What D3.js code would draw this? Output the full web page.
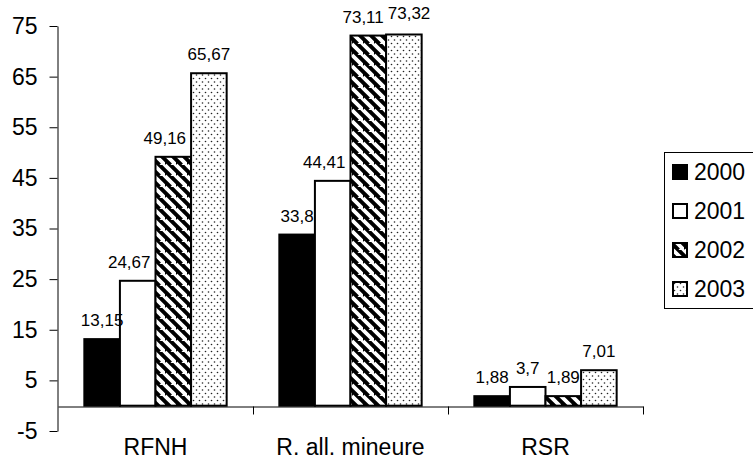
<!DOCTYPE html>
<html>
<head>
<meta charset="utf-8">
<script src="https://cdn.jsdelivr.net/npm/d3@7"></script>
<style>
  body { margin: 0; background: #fff; }
  svg { display: block; }
</style>
</head>
<body>
<div id="svg-container"></div>
<script>
// data
var categories = ["RFNH", "R. all. mineure", "RSR"];
var years = ["2000", "2001", "2002", "2003"];
var values2000 = [13.15, 33.8, 1.88];
var values2001 = [24.67, 44.41, 3.7];
var values2002 = [49.16, 73.11, 1.89];
var values2003 = [65.67, 73.32, 7.01];
var labels2000 = ["13,15", "33,8", "1,88"];
var labels2001 = ["24,67", "44,41", "3,7"];
var labels2002 = ["49,16", "73,11", "1,89"];
var labels2003 = ["65,67", "73,32", "7,01"];
var yTicks = [-5, 5, 15, 25, 35, 45, 55, 65, 75];

var svgWidth = 753,
    svgHeight = 464;
var fontFamily = "'Liberation Sans', Arial, sans-serif";

var svg = d3.select("#svg-container").append("svg")
    .attr("width", svgWidth)
    .attr("height", svgHeight);

// patterns for 2002 (stripes) and 2003 (dots)
var defs = svg.append("defs");
var stripes = defs.append("pattern")
    .attr("id", "stripes")
    .attr("patternUnits", "userSpaceOnUse")
    .attr("width", 11)
    .attr("height", 11);
stripes.append("rect").attr("width", 11).attr("height", 11).attr("fill", "#fff");
stripes.append("path")
    .attr("d", "M-5.5,0 L5.5,11 M0,-5.5 L16.5,11 M5.5,-11 L16.5,0 M-5.5,5.5 L0,11") // "\" diagonals
    .attr("stroke", "#000")
    .attr("stroke-width", 4);

var dots = defs.append("pattern")
    .attr("id", "dots")
    .attr("patternUnits", "userSpaceOnUse")
    .attr("width", 6)
    .attr("height", 7);
dots.append("rect").attr("width", 6).attr("height", 7).attr("fill", "#fff");
dots.append("circle").attr("cx", 1.5).attr("cy", 1.5).attr("r", 0.8).attr("fill", "#222");
dots.append("circle").attr("cx", 4.5).attr("cy", 5).attr("r", 0.8).attr("fill", "#222");

var fills = ["#000", "#fff", "url(#stripes)", "url(#dots)"];

// build table from the arrays
var seriesValues = [values2000, values2001, values2002, values2003];
var seriesLabels = [labels2000, labels2001, labels2002, labels2003];
var table = [];
categories.forEach(function(cat, ci) {
    years.forEach(function(yr, si) {
        table.push({cat: cat, year: yr, value: seriesValues[si][ci], label: seriesLabels[si][ci], fill: fills[si]});
    });
});

// scales
var y = d3.scaleLinear().domain([-5, 75]).range([431, 26]);
var x0 = d3.scaleBand().domain(categories).range([58, 643]);
var x1 = d3.scaleBand().domain(years).range([0, x0.bandwidth()]).paddingInner(0).paddingOuter(0.74);

// y axis
var yAxis = svg.append("g")
    .attr("transform", "translate(57.5,0)")
    .call(d3.axisLeft(y).tickValues(yTicks).tickSize(8).tickSizeOuter(0).tickPadding(12)
        .tickFormat(function(d) { return String(d); })); // plain hyphen for -5
yAxis.select(".domain").attr("stroke", "#000");
yAxis.selectAll("text")
    .attr("font-size", 23)
    .attr("font-family", fontFamily)
    .attr("fill", "#000");

// bars
svg.append("g").selectAll(".bar")
    .data(table)
    .enter().append("rect")
    .attr("class", "bar")
    .attr("x", function(d) { return x0(d.cat) + x1(d.year); })
    .attr("y", function(d) { return y(d.value); })
    .attr("width", x1.bandwidth())
    .attr("height", function(d) { return y(0) - y(d.value); })
    .attr("fill", function(d) { return d.fill; })
    .attr("stroke", "#000")
    .attr("stroke-width", 2);

// value labels
var valueLabels = svg.append("g").selectAll(".val")
    .data(table)
    .enter().append("text")
    .attr("class", "val")
    .attr("x", function(d) { return x0(d.cat) + x1(d.year) + x1.bandwidth() / 2; })
    .attr("y", function(d) { return y(d.value) - 13; })
    .attr("text-anchor", "middle")
    .attr("font-size", 17)
    .attr("font-family", fontFamily)
    .text(function(d) { return d.label; });

// nudge labels like the spreadsheet does: away from each other and from a much taller bar on the right
var nodes = valueLabels.nodes();
table.forEach(function(d, i) {
    d.w = nodes[i].getComputedTextLength();
    d.cx = x0(d.cat) + x1(d.year) + x1.bandwidth() / 2;
    d.dy = 0;
});
table.forEach(function(d, i) {
    var next = table[i + 1];
    if (!next || next.cat !== d.cat) return;
    var overlap = (d.cx + d.w / 2) - (next.cx - next.w / 2);
    if (overlap > 0 && Math.abs(y(d.value) - y(next.value)) < 16) { // two labels side by side
        var push = (overlap + 4) / 2;
        d.cx -= push;
        next.cx += push;
        next.dy = -3;
    } else if (next.value > d.value + 5 && d.value > 15) { // taller bar next to it
        var barLeft = x0(next.cat) + x1(next.year);
        var hit = (d.cx + d.w / 2) - barLeft;
        if (hit > 0) d.cx -= hit + 5;
    }
});
valueLabels
    .attr("x", function(d) { return d.cx; })
    .attr("y", function(d) { return y(d.value) - 13 + d.dy; });

// x axis along zero
var xAxis = svg.append("g")
    .attr("transform", "translate(0," + (Math.round(y(0)) + 0.5) + ")")
    .call(d3.axisBottom(x0).tickSize(0).tickSizeOuter(0).tickPadding(0));
xAxis.select(".domain").attr("stroke", "#000");
xAxis.selectAll("text")
    .attr("y", 48)
    .attr("dy", null)
    .attr("font-size", 23)
    .attr("font-family", fontFamily)
    .attr("fill", "#000");
xAxis.selectAll(".boundary")
    .data(categories)
    .enter().append("line")
    .attr("class", "boundary")
    .attr("x1", function(d) { return Math.round(x0(d) + x0.bandwidth()) + 0.5; })
    .attr("x2", function(d) { return Math.round(x0(d) + x0.bandwidth()) + 0.5; })
    .attr("y1", 0)
    .attr("y2", 8)
    .attr("stroke", "#000");

// legend (box runs off the right edge, as in the original)
var legend = svg.append("g");
legend.append("rect")
    .attr("x", 664.5)
    .attr("y", 152.5)
    .attr("width", 130)
    .attr("height", 156)
    .attr("fill", "#fff")
    .attr("stroke", "#000");
var legendRows = legend.selectAll(".row")
    .data(years)
    .enter().append("g")
    .attr("class", "row")
    .attr("transform", function(d, i) { return "translate(673," + (172 + i * 39) + ")"; });
legendRows.append("rect")
    .attr("x", 0)
    .attr("y", -7)
    .attr("width", 14)
    .attr("height", 14)
    .attr("fill", function(d, i) { return fills[i]; })
    .attr("stroke", "#000")
    .attr("stroke-width", 2);
legendRows.append("text")
    .attr("x", 21)
    .attr("y", 0)
    .attr("dy", "0.36em")
    .attr("font-size", 23)
    .attr("font-family", fontFamily)
    .text(function(d) { return d; });
</script>
</body>
</html>
